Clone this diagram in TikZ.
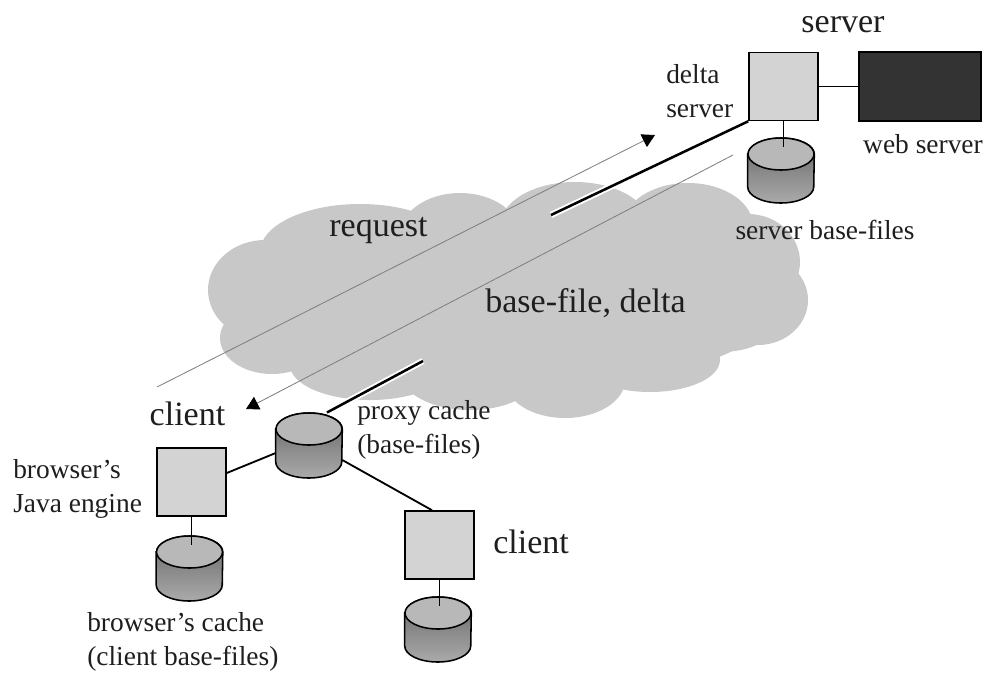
\documentclass[tikz,border=0pt]{standalone}
\usepackage{fontspec}
\setmainfont{Liberation Serif}
\usetikzlibrary{arrows.meta,calc}
\definecolor{cloudgray}{HTML}{C8C8C8}
\definecolor{boxgray}{HTML}{D3D3D3}
\definecolor{webdark}{HTML}{333333}
\definecolor{cyltop}{HTML}{666666}
\definecolor{cylbot}{HTML}{AAAAAA}
\definecolor{cylcap}{HTML}{B8B8B8}
\definecolor{flowgray}{HTML}{808080}
\definecolor{inkc}{HTML}{1E1E1E}
\newcommand\pxl{0.025cm}
\newcommand\smallfnt{\fontsize{19.5pt}{23.5pt}\selectfont}
\newcommand\bigfnt{\fontsize{24.2pt}{29pt}\selectfont}
% cylinder: name, cx, cy (px)
\newcommand\dbcyl[3]{%
  \node[inner sep=0,minimum width=1.65cm,minimum height=1.625cm] (#1) at (#2,#3) {};
  \shade[top color=cyltop,bottom color=cylbot,draw=black,line width=1.1pt]
    ($(#1.west)+(0,-16.5)$) -- ($(#1.west)+(0,16.5)$)
    arc[start angle=180,end angle=360,x radius=0.825cm,y radius=0.4cm]
    -- ($(#1.east)+(0,-16.5)$)
    arc[start angle=0,end angle=180,x radius=0.825cm,y radius=0.4cm] -- cycle;
  \draw[fill=cylcap,line width=1.1pt] ($(#1.center)+(0,-16.5)$) ellipse[x radius=0.825cm,y radius=0.4cm];
}
\begin{document}
\begin{tikzpicture}[x=0.025cm,y=-0.025cm,
  unitbox/.style={draw=black,line width=1.1pt,fill=boxgray,inner sep=0,minimum width=1.725cm,minimum height=1.7cm},
  webbox/.style={draw=black,line width=1.1pt,fill=webdark,inner sep=0,minimum width=3.05cm,minimum height=1.725cm},
  wire/.style={draw=black,line width=1.3pt},
  link/.style={draw=black,line width=1.8pt,preaction={draw=white,line width=4.5pt}},
  flow/.style={draw=flowgray,line width=0.6pt,-{Triangle[length=9pt,width=10pt,color=black]}},
  lbl/.style={inner sep=0,font=\smallfnt,text=inkc},
  biglbl/.style={inner sep=0,font=\bigfnt,text=inkc},
  puff/.style={fill=cloudgray,draw=none}]
\useasboundingbox (0,0) rectangle (988,673);

% cloud
\foreach \cx/\cy/\rx/\ry in {510/300/270/90, 265/290/57/50, 272/338/52/36, 360/252/100/48,
  460/235/60/42, 575/226/75/44, 688/226/65/43, 748/262/52/48, 758/300/50/45,
  370/365/80/35, 470/372/70/38, 565/380/60/38, 650/360/70/32, 720/330/50/22}
  \fill[puff] (\cx,\cy) ellipse[x radius=\rx*\pxl, y radius=\ry*\pxl];

% flows
\coordinate (reqA) at (157,387);
\coordinate (reqB) at (655,135);
\coordinate (bfA) at (733,155);
\coordinate (bfB) at (246,409);
\draw[flow] (reqA) -- (reqB);
\draw[flow] (bfA) -- (bfB);

% server side
\node[unitbox] (dserver) at (783.5,86.5) {};
\node[webbox] (web) at (920,86.5) {};
\dbcyl{scyl}{781}{170.5}
\draw[wire] (dserver.east) -- (web.west);
\draw[wire] (dserver.south) -- ($(dserver.south |- scyl.north)+(0,9)$);

% client side
\node[unitbox] (jbox) at (191.5,482) {};
\dbcyl{bcyl}{189.5}{568.5}
\dbcyl{pcyl}{309}{445.5}
\node[unitbox] (cbox) at (439.5,545) {};
\dbcyl{ccyl}{438}{629.5}
\draw[wire] (jbox.south) -- ($(jbox.south |- bcyl.north)+(0,9)$);
\draw[wire] (cbox.south) -- ($(cbox.south |- ccyl.north)+(0,9)$);
\draw[wire] ($(jbox.east)+(0,-9)$) -- ($(pcyl.west)+(0,7.5)$);
\draw[wire] ($(pcyl.east)+(0,14.5)$) -- ($(cbox.north)+(-7.5,0)$);

% network links (broken by the cloud)
\coordinate (linkS) at (551,215);
\coordinate (linkC) at (423,361);
\draw[link] (dserver.south west) -- (linkS);
\draw[link] (linkC) -- ($(pcyl.center)+(18,-33)$);

% labels (multi-line nodes: base = last line's baseline)
\node[biglbl,anchor=base] (tserver) at (843,32) {server};
\node[lbl,anchor=base west,align=left] (tdelta) at (666,117) {delta\\server};
\node[lbl,anchor=base] (tweb) at (923,153) {web server};
\node[lbl,anchor=base] (tsbase) at (825,239) {server base-files};
\node[biglbl,anchor=base] (treq) at (378.5,236) {request};
\node[biglbl,anchor=base] (tbf) at (585.5,312) {base-file, delta};
\node[biglbl,anchor=base] (tclientA) at (187.5,425) {client};
\node[lbl,anchor=base west,align=left] (tjava) at (13,512) {browser’s\\Java engine};
\node[lbl,anchor=base west,align=left] (tproxy) at (357,453) {proxy cache\\(base-files)};
\node[biglbl,anchor=base west] (tclientB) at (493,553) {client};
\node[lbl,anchor=base west,align=left] (tbcache) at (87,665) {browser’s cache\\(client base-files)};
\end{tikzpicture}
\end{document}
